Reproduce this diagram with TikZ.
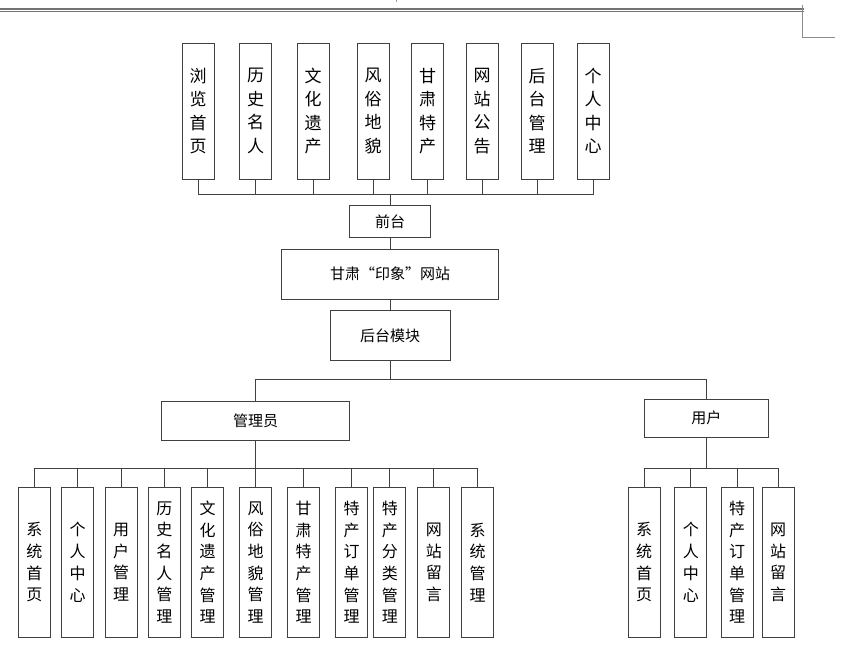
\documentclass[tikz,border=0pt]{standalone}
\usepackage{fontspec}
\newfontfamily\cjk{Noto Sans CJK SC}
\begin{document}
\begin{tikzpicture}[x=1pt,y=-1pt,
    box/.style={draw=black!75,line width=0.9pt,fill=white,inner sep=0pt,align=center},
    topbox/.style={box,minimum width=32pt,minimum height=136pt,font=\cjk\fontsize{17}{23.5}\selectfont},
    subbox/.style={box,minimum width=32pt,minimum height=150pt,font=\cjk\fontsize{16}{21.7}\selectfont},
    midbox/.style={box,font=\cjk\fontsize{15}{18}\selectfont},
    link/.style={draw=black!75,line width=0.9pt}]
\useasboundingbox (0,0) rectangle (857,645);
% page header marks
\draw [black!55,line width=1.6pt] (0,8.7) -- (804,8.7);
\draw [black!55,line width=0.8pt] (0,11.2) -- (804,11.2);
\draw [black!45,line width=0.7pt] (802.3,5) -- (802.3,37) -- (835,37);
\draw [black!40,line width=0.6pt] (396.7,0) -- (396.7,2);

% front end
\foreach \x/\t [count=\i] in {198/{浏\\览\\首\\页},255.5/{历\\史\\名\\人},313/{文\\化\\遗\\产},
    373/{风\\俗\\地\\貌},427.5/{甘\\肃\\特\\产},482/{网\\站\\公\\告},537/{后\\台\\管\\理},593/{个\\人\\中\\心}}
  \node [topbox] (t\i) at (\x,111) {\t};
\coordinate (qbus) at (390,194);
\node [midbox,minimum width=81pt,minimum height=31.6pt] (qt) at (390,221.5) {前台};
\foreach \i in {1,...,8}
  \draw [link] (t\i.south) |- (qbus);
\draw [link] (qbus) -- (qt.north);

% site and back end
\node [midbox,minimum width=217pt,minimum height=50pt] (site) at (390,274) {甘肃“印象”网站};
\node [midbox,minimum width=120pt,minimum height=50pt] (ht) at (390,335.7) {后台模块};
\draw [link] (qt.south) -- (site.north);
\draw [link] (site.south) -- (ht.north);

\coordinate (hbus) at (390,379.3);
\node [midbox,minimum width=187.6pt,minimum height=38.3pt] (gly) at (255.5,420.8) {管理员};
\node [midbox,minimum width=124.7pt,minimum height=38.3pt] (yh) at (706.3,418.2) {用户};
\draw [link] (ht.south) -- (hbus);
\draw [link] (hbus) -| (gly.north);
\draw [link] (hbus) -| (yh.north);

% admin modules
\foreach \x/\t [count=\i] in {34.3/{系\\统\\首\\页},77.7/{个\\人\\中\\心},121/{用\\户\\管\\理},
    164.3/{历\\史\\名\\人\\管\\理},207.7/{文\\化\\遗\\产\\管\\理},255.5/{风\\俗\\地\\貌\\管\\理},
    303.5/{甘\\肃\\特\\产\\管\\理},351.7/{特\\产\\订\\单\\管\\理},389.8/{特\\产\\分\\类\\管\\理},
    433.8/{网\\站\\留\\言},477.7/{系\\统\\管\\理}}
  \node [subbox] (g\i) at (\x,562.3) {\t};
\coordinate (gbus) at (255.5,468.3);
\draw [link] (gly.south) -- (gbus);
\foreach \i in {1,...,11}
  \draw [link] (g\i.north) |- (gbus);

% user modules
\foreach \x/\t [count=\i] in {644.2/{系\\统\\首\\页},690.8/{个\\人\\中\\心},
    737/{特\\产\\订\\单\\管\\理},778.2/{网\\站\\留\\言}}
  \node [subbox] (u\i) at (\x,562.3) {\t};
\coordinate (ubus) at (706.3,468.3);
\draw [link] (yh.south) -- (ubus);
\foreach \i in {1,...,4}
  \draw [link] (u\i.north) |- (ubus);
\end{tikzpicture}
\end{document}
